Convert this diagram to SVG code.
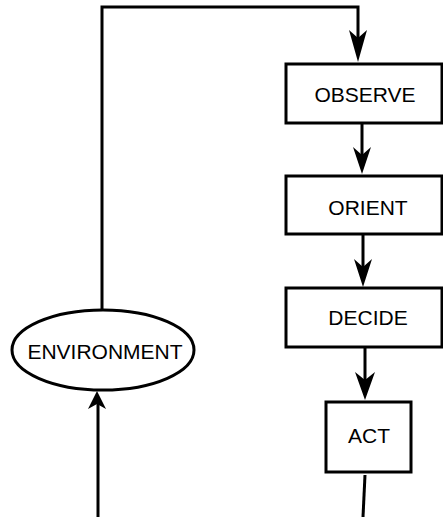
<svg xmlns="http://www.w3.org/2000/svg" width="443" height="517" viewBox="0 0 443 517">
<style>
.box{fill:#fff;stroke:#000;stroke-width:3}
.lbl{font-family:"Liberation Sans",Arial,sans-serif;font-size:21px;fill:#000;text-anchor:middle}
.ln{fill:none;stroke:#000;stroke-width:3}
.ah{fill:#000;stroke:none}
</style>
<rect width="443" height="517" fill="#fff"/>
<g id="connectors">
<path class="ln" d="M102,310 L102,7 L358,7 L358,40"/>
<path class="ah" d="M358,62 L349,30 L358,38 L367,30 Z"/>
<path class="ln" d="M362,124 L362,160"/>
<path class="ah" d="M362,174 L353,147 L362,155 L371,147 Z"/>
<path class="ln" d="M363,235 L363,270"/>
<path class="ah" d="M363,287 L354,259 L363,267 L372,259 Z"/>
<path class="ln" d="M365,348 L365,385"/>
<path class="ah" d="M365,400 L355,372 L365,380 L375,372 Z"/>
<path class="ln" d="M365,475 L363,517"/>
<path class="ln" d="M98,517 L98,402"/>
<path class="ah" d="M97,391 L88,409 L97,404 L106,409 Z"/>
</g>
<g id="observe">
<rect class="box" x="286" y="64" width="156" height="59"/>
<text class="lbl" x="365" y="102">OBSERVE</text>
</g>
<g id="orient">
<rect class="box" x="286" y="176" width="156" height="58"/>
<text class="lbl" x="368" y="215">ORIENT</text>
</g>
<g id="decide">
<rect class="box" x="286" y="288" width="156" height="59"/>
<text class="lbl" x="368" y="325">DECIDE</text>
</g>
<g id="act">
<rect class="box" x="326" y="402" width="85" height="70"/>
<text class="lbl" x="369" y="443">ACT</text>
</g>
<g id="environment">
<ellipse class="box" cx="103" cy="350" rx="91" ry="40"/>
<text class="lbl" x="105" y="359">ENVIRONMENT</text>
</g>
</svg>
